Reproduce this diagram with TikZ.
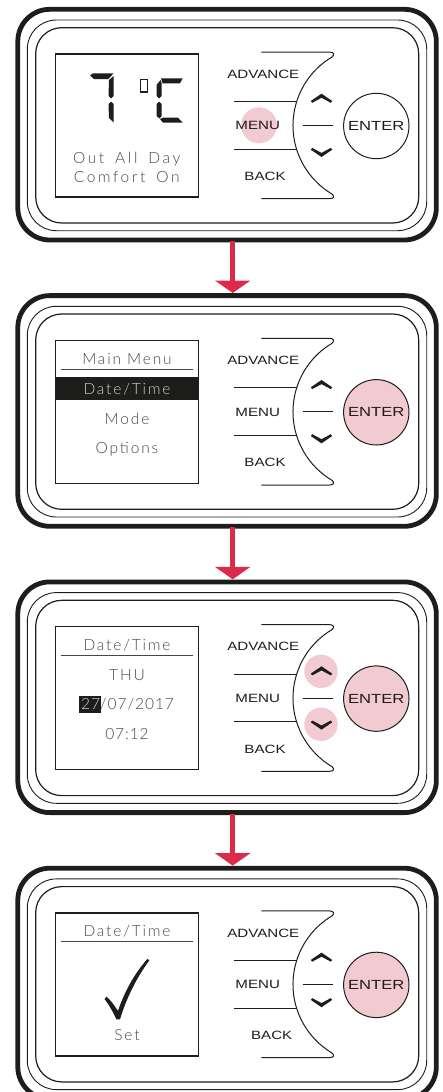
\documentclass[tikz,border=0pt]{standalone}
\usepackage{fontspec}
\usepackage{xcolor}
\usetikzlibrary{arrows.meta}
\newfontfamily\ScreenFont[LetterSpace=12,UprightFont={* Light}]{Lato}
\newfontfamily\WideFont[LetterSpace=17,WordSpace=1.6,UprightFont={* Light}]{Lato}
\newfontfamily\DigitFont[LetterSpace=6,UprightFont={* Light}]{Lato}
\newfontfamily\ButtonFont[FakeStretch=1.26]{Liberation Sans}
\definecolor{blush}{HTML}{F2CAD1}
\definecolor{crimson}{HTML}{DC2A4A}
\definecolor{ink}{HTML}{1D1D1B}
\definecolor{lcdgrey}{HTML}{464646}
\tikzset{
    outerwall/.style={draw=ink, line width=4.8pt, rounded corners=32pt},
    midwall/.style={draw=ink, line width=0.9pt, rounded corners=29pt},
    innerwall/.style={draw=ink, line width=1.2pt, rounded corners=26pt},
    screenbox/.style={draw=ink, line width=1.2pt},
    rulerline/.style={draw=lcdgrey, line width=0.9pt},
    keyline/.style={draw=ink, line width=1pt},
    lcdtext/.style={text=lcdgrey, inner sep=0pt, font=\fontsize{15.5}{15.5}\selectfont\ScreenFont},
    widetext/.style={text=lcdgrey, inner sep=0pt, font=\fontsize{15.5}{15.5}\selectfont\WideFont},
    digittext/.style={text=lcdgrey, inner sep=0pt, font=\fontsize{15.5}{15.5}\selectfont\DigitFont},
    keytext/.style={text=ink, inner sep=0pt, font=\fontsize{12}{12}\selectfont\ButtonFont},
    segment/.style={fill=ink, draw=none},
    flowarrow/.style={draw=crimson, line width=5pt, -{Triangle[width=35pt, length=12.5pt]}},
}
% Frame of one thermostat, with the two ends of the arrows
\newcommand{\Frame}{
    \draw[outerwall] (17.8,9.3) rectangle (436.3,240);
    \draw[midwall] (27.3,20) rectangle (426.7,230.7);
    \draw[innerwall] (35.7,27.7) rectangle (418.7,223);
    \draw[screenbox] (55.7,54) rectangle (198.7,197);
    \coordinate (in) at (232.7,6.7);
    \coordinate (out) at (232.7,241);
}
% Keys: #1 fill of ENTER, #2 x of BACK, #3 y of the lower chevron
\newcommand{\Keys}[3]{
    \draw[keyline] (261.3,52) -- (329.5,52) .. controls (333.5,52) and (335,54.5) .. (332,57)
        arc[start angle=120.7, end angle=239.3, radius=79.7pt]
        .. controls (335,196.5) and (333.5,198.7) .. (329.5,198.7) -- (261.3,198.7);
    \draw[keyline] (234,101.5) -- (297,101.5);
    \draw[keyline] (234,149.3) -- (297,149.3);
    \draw[keyline] (302.7,125.5) -- (332.7,125.5);
    \fill[ink] (310.8,101) -- (321.5,93.7) -- (332.2,101) -- (330.8,102.8) -- (321.5,97.8) -- (312.2,102.8) -- cycle;
    \fill[ink] (310.8,#3+1.7) -- (321.5,#3+9) -- (332.2,#3+1.7) -- (330.8,#3-0.1) -- (321.5,#3+4.9) -- (312.2,#3-0.1) -- cycle;
    \node[keytext] (advance) at (263.3,74) {ADVANCE};
    \node[keytext] (menu) at (257.7,125.7) {MENU};
    \node[keytext] (back) at (#2,176.5) {BACK};
    \node[circle, draw=ink, line width=1pt, fill=#1, minimum size=65.4pt, inner sep=0pt,
        text=ink, font=\fontsize{13.2}{13.2}\selectfont\ButtonFont] (enter) at (376.3,126) {ENTER};
}
\begin{document}
\begin{tikzpicture}[x=1pt, y=-1pt]
    \useasboundingbox (0,0) rectangle (443,1092);
    \clip (0,0) rectangle (443,1092);

    % Home screen
    \begin{scope}[name prefix=home-]
        \Frame
        \fill[blush] (259,125.3) circle[radius=18pt];
        \Keys{white}{265}{148}
        % Digit 7
        \fill[segment] (90,75.5) -- (93,73.3) -- (113.5,73.3) -- (108.5,79) -- (94,79) -- cycle;
        \fill[segment] (109,80) -- (113.7,76) -- (113.7,96) -- (111,98.5) -- (108.5,96) -- cycle;
        \fill[segment] (108.5,104) -- (111,101.7) -- (113.7,104) -- (113.7,122.5) -- (109,118) -- cycle;
        % Letter C
        \fill[segment] (161,78.3) -- (182.7,78.3) -- (180,83.3) -- (162.5,83.3) -- cycle;
        \fill[segment] (156.5,85) -- (160.5,80) -- (161.7,83.5) -- (161.7,96) -- (159,98.5) -- (156.5,96) -- cycle;
        \fill[segment] (156.5,104) -- (159,101.7) -- (161.7,104) -- (161.7,116) -- (159.5,118.5) -- (156.5,116) -- cycle;
        \fill[segment] (160,119) -- (163,117.7) -- (178,117.7) -- (182.7,122.7) -- (163,122.7) -- cycle;
        % Degree sign
        \draw[ink, line width=1.1pt] (140.6,79.6) rectangle (147.7,92);
        \node[widetext] (line1) at (126.7,159.3) {Out All Day};
        \node[widetext] (line2) at (126.7,177.3) {Comfort On};
    \end{scope}

    % Main menu
    \begin{scope}[shift={(0,286.3)}, name prefix=menu-]
        \Frame
        \Keys{blush}{265}{148}
        \fill[ink] (55.7,90.7) rectangle (198.7,113.4);
        \node[lcdtext] (title) at (127,72.7) {Main Menu};
        \draw[rulerline] (61,83) -- (193,83);
        \node[lcdtext, text=white!82!black] (date) at (127,102.7) {Date/Time};
        \node[lcdtext] (mode) at (127,132.7) {Mode};
        \node[lcdtext] (options) at (127,162.7) {Options};
    \end{scope}

    % Setting the date
    \begin{scope}[shift={(0,572.6)}, name prefix=set-]
        \Frame
        \fill[blush] (321,98.7) circle[radius=16.7pt];
        \fill[blush] (321,151.7) circle[radius=16.7pt];
        \Keys{blush}{265}{148}
        \fill[ink] (79,123.4) rectangle (100.7,140);
        \node[lcdtext] (title) at (127,72.4) {Date/Time};
        \draw[rulerline] (61,82.6) -- (193,82.6);
        \node[lcdtext] (day) at (127,102.4) {THU};
        \node[digittext] (date) at (127.5,131.6) {{\color{white!82!black}27}/07/2017};
        \node[digittext] (time) at (127,161.4) {07:12};
    \end{scope}

    % Confirmation
    \begin{scope}[shift={(0,858.9)}, name prefix=done-]
        \Frame
        \Keys{blush}{271.7}{139.3}
        \node[lcdtext] (title) at (127,72.4) {Date/Time};
        \draw[rulerline] (61,82.6) -- (193,82.6);
        % Tick
        \fill[ink] (104.5,140) -- (106.5,137.8) .. controls (110,140.5) and (114,146) .. (118,152)
            .. controls (124,134) and (134,115) .. (147.5,100) -- (149.3,101.5)
            .. controls (137,118) and (126,140) .. (120,160.5) -- (116.5,160.5)
            .. controls (113,153) and (109,146) .. cycle;
        \node[lcdtext] (word) at (127,176) {Set};
    \end{scope}

    % Arrows
    \draw[flowarrow] (home-out) -- (menu-in);
    \draw[flowarrow] (menu-out) -- (set-in);
    \draw[flowarrow] (set-out) -- (done-in);
\end{tikzpicture}
\end{document}
